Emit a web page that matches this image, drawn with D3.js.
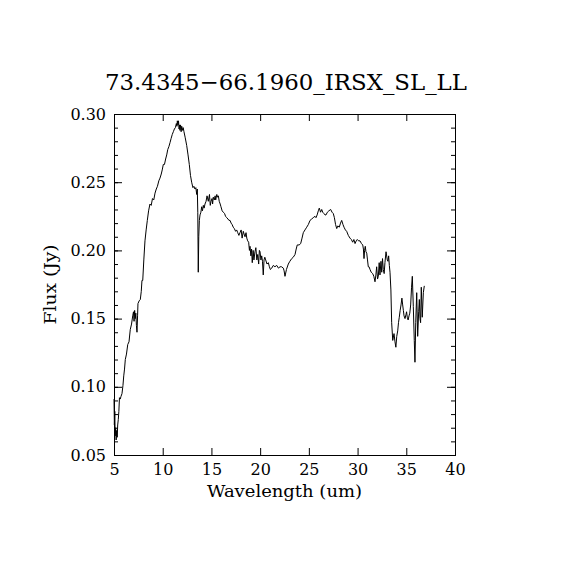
<!DOCTYPE html>
<html>
<head>
<meta charset="utf-8">
<script src="https://cdn.jsdelivr.net/npm/d3@7"></script>
<style>
  body { margin: 0; background: #fff; }
  text { font-family: "DejaVu Serif", "Liberation Serif", serif; fill: #000; }
</style>
</head>
<body>
<svg id="chart" width="570" height="570"></svg>
<script>
"use strict";

const title = "73.4345\u221266.1960_IRSX_SL_LL";
const xTicks = [5, 10, 15, 20, 25, 30, 35, 40];
const yTicks = [0.05, 0.10, 0.15, 0.20, 0.25, 0.30];

// wavelength (um)
const wave = [
  5.00, 5.04, 5.08, 5.12, 5.17, 5.22, 5.28, 5.33, 5.38, 5.44, 5.50, 5.56, 5.64, 5.72, 5.82,
  5.92, 6.00, 6.08, 6.16, 6.28, 6.41, 6.54, 6.67, 6.80, 6.92, 7.00, 7.06, 7.12, 7.18, 7.24,
  7.30, 7.36, 7.42, 7.46, 7.58, 7.70, 7.80, 7.87, 7.95, 8.06, 8.18, 8.30, 8.42, 8.55, 8.69,
  8.82, 8.95, 9.08, 9.21, 9.34, 9.46, 9.60, 9.72, 9.85, 9.95, 10.06, 10.18, 10.30, 10.41,
  10.52, 10.63, 10.75, 10.86, 10.98, 11.09, 11.20, 11.30, 11.40, 11.46, 11.50, 11.56, 11.62,
  11.68, 11.73, 11.77, 11.83, 11.89, 11.95, 12.02, 12.10, 12.18, 12.30, 12.46, 12.60, 12.73,
  12.85, 12.97, 13.10, 13.20, 13.31, 13.40, 13.49, 13.55, 13.60, 13.65, 13.70, 13.76, 13.83,
  13.92, 14.00, 14.08, 14.17, 14.25, 14.34, 14.45, 14.55, 14.68, 14.80, 14.88, 14.96, 15.06,
  15.12, 15.19, 15.30, 15.38, 15.44, 15.55, 15.63, 15.71, 15.80, 15.90, 15.98, 16.10, 16.22,
  16.35, 16.45, 16.57, 16.70, 16.80, 16.91, 17.02, 17.12, 17.24, 17.35, 17.48, 17.59, 17.70,
  17.82, 17.93, 18.05, 18.15, 18.27, 18.35, 18.45, 18.55, 18.63, 18.72, 18.82, 18.90, 18.96,
  19.05, 19.12, 19.19, 19.28, 19.36, 19.47, 19.56, 19.66, 19.75, 19.85, 19.92, 19.99, 20.08,
  20.16, 20.24, 20.32, 20.40, 20.48, 20.57, 20.70, 20.84, 20.95, 21.05, 21.19, 21.35, 21.52,
  21.70, 21.88, 22.04, 22.20, 22.38, 22.46, 22.55, 22.70, 22.89, 23.05, 23.24, 23.40, 23.58,
  23.70, 23.81, 24.00, 24.16, 24.30, 24.43, 24.60, 24.78, 24.95, 25.12, 25.29, 25.45, 25.63,
  25.73, 25.85, 25.97, 26.07, 26.20, 26.32, 26.42, 26.55, 26.66, 26.76, 26.90, 27.05, 27.24,
  27.38, 27.51, 27.62, 27.74, 27.86, 27.98, 28.12, 28.25, 28.37, 28.50, 28.61, 28.75, 28.88,
  29.05, 29.22, 29.36, 29.50, 29.62, 29.74, 29.86, 29.97, 30.10, 30.25, 30.40, 30.53, 30.60,
  30.66, 30.72, 30.79, 30.86, 30.94, 31.02, 31.10, 31.18, 31.28, 31.40, 31.55, 31.67, 31.79,
  31.88, 31.96, 32.05, 32.13, 32.22, 32.30, 32.40, 32.48, 32.56, 32.64, 32.73, 32.81, 32.92,
  33.05, 33.12, 33.19, 33.26, 33.33, 33.42, 33.50, 33.61, 33.74, 33.84, 33.93, 34.02, 34.12,
  34.20, 34.28, 34.37, 34.46, 34.55, 34.63, 34.70, 34.77, 34.87, 34.97, 35.03, 35.10, 35.19,
  35.28, 35.36, 35.45, 35.54, 35.62, 35.72, 35.82, 35.89, 35.97, 36.07, 36.17, 36.27, 36.34,
  36.41, 36.47, 36.54, 36.64, 36.75, 36.85, 36.99
];

// flux (Jy)
const flux = [
  0.091, 0.072, 0.082, 0.064, 0.070, 0.061, 0.068, 0.063, 0.072, 0.076, 0.082, 0.092, 0.091, 0.093, 0.095,
  0.101, 0.108, 0.113, 0.120, 0.124, 0.131, 0.133, 0.142, 0.146, 0.152, 0.155, 0.148, 0.156, 0.150, 0.154,
  0.145, 0.140, 0.152, 0.161, 0.163, 0.164, 0.170, 0.178, 0.178, 0.193, 0.207, 0.215, 0.222, 0.229, 0.234,
  0.233, 0.238, 0.237, 0.242, 0.245, 0.247, 0.251, 0.253, 0.256, 0.259, 0.263, 0.263, 0.267, 0.270,
  0.274, 0.276, 0.279, 0.282, 0.285, 0.287, 0.289, 0.290, 0.293, 0.291, 0.295, 0.292, 0.295,
  0.289, 0.292, 0.288, 0.292, 0.287, 0.291, 0.288, 0.290, 0.287, 0.283, 0.277, 0.270, 0.263,
  0.255, 0.250, 0.246, 0.247, 0.245, 0.246, 0.241, 0.245, 0.228, 0.184, 0.210, 0.222, 0.226,
  0.228, 0.232, 0.229, 0.233, 0.231, 0.234, 0.236, 0.240, 0.236, 0.241, 0.233, 0.236, 0.238,
  0.234, 0.239, 0.237, 0.240, 0.237, 0.241, 0.239, 0.240, 0.236, 0.234, 0.232, 0.229, 0.228,
  0.227, 0.225, 0.224, 0.223, 0.222, 0.222, 0.220, 0.219, 0.217, 0.216, 0.214, 0.215, 0.213,
  0.211, 0.213, 0.215, 0.209, 0.214, 0.212, 0.210, 0.213, 0.209, 0.207, 0.206, 0.200, 0.203,
  0.196, 0.201, 0.191, 0.200, 0.193, 0.199, 0.202, 0.193, 0.197, 0.190, 0.200, 0.199, 0.193,
  0.196, 0.192, 0.182, 0.193, 0.195, 0.193, 0.190, 0.191, 0.188, 0.186, 0.187, 0.189, 0.188,
  0.189, 0.187, 0.188, 0.188, 0.187, 0.185, 0.181, 0.186, 0.190, 0.192, 0.194, 0.195, 0.197,
  0.201, 0.204, 0.204, 0.205, 0.209, 0.213, 0.215, 0.217, 0.219, 0.222, 0.223, 0.224, 0.225,
  0.224, 0.226, 0.229, 0.231, 0.228, 0.230, 0.228, 0.227, 0.226, 0.226, 0.228, 0.229, 0.230,
  0.228, 0.227, 0.224, 0.219, 0.216, 0.218, 0.217, 0.220, 0.222, 0.219, 0.217, 0.215, 0.214,
  0.211, 0.209, 0.208, 0.206, 0.208, 0.205, 0.207, 0.208, 0.207, 0.207, 0.205, 0.204, 0.201,
  0.194, 0.200, 0.203, 0.199, 0.198, 0.193, 0.188, 0.188, 0.186, 0.184, 0.183, 0.181, 0.177,
  0.182, 0.188, 0.179, 0.181, 0.191, 0.182, 0.192, 0.184, 0.194, 0.186, 0.183, 0.191,
  0.199, 0.193, 0.192, 0.196, 0.189, 0.184, 0.171, 0.147, 0.134, 0.139, 0.133, 0.129, 0.137,
  0.141, 0.147, 0.151, 0.156, 0.160, 0.165, 0.160, 0.156, 0.152, 0.150, 0.153, 0.155, 0.151,
  0.149, 0.152, 0.154, 0.160, 0.173, 0.181, 0.159, 0.134, 0.118, 0.147, 0.169, 0.137, 0.155,
  0.164, 0.150, 0.147, 0.173, 0.151, 0.169, 0.174
];

const svg = d3.select("#chart"),
    margin = {top: 114, right: 115, bottom: 115, left: 114},
    width = +svg.attr("width") - margin.left - margin.right,
    height = +svg.attr("height") - margin.top - margin.bottom,
    x = d3.scaleLinear().domain([5, 40]).range([0, width]),
    y = d3.scaleLinear().domain([0.05, 0.30]).range([height, 0]),
    g = svg.append("g")
        .attr("transform", `translate(${margin.left},${margin.top})`);

svg.append("rect").attr("width", 570).attr("height", 570).attr("fill", "#fff").lower();

const yMinor = d3.range(0.05, 0.3001, 0.01);

// bottom and top axes (ticks pointing inward)
g.append("g")
    .attr("class", "axis axis-x")
    .attr("transform", `translate(0,${height})`)
    .call(d3.axisBottom(x).tickValues(xTicks).tickSize(-7).tickPadding(9).tickFormat(d3.format("d")));

g.append("g")
    .call(d3.axisTop(x).tickValues(xTicks).tickSize(-7).tickFormat(""));

// left and right axes: minor then major
g.append("g")
    .call(d3.axisLeft(y).tickValues(yMinor).tickSize(-4).tickFormat(""));
g.append("g")
    .attr("class", "axis axis-y")
    .call(d3.axisLeft(y).tickValues(yTicks).tickSize(-8).tickPadding(8).tickFormat(d3.format(".2f")));

g.append("g")
    .attr("transform", `translate(${width},0)`)
    .call(d3.axisRight(y).tickValues(yMinor).tickSize(-4).tickFormat(""));
g.append("g")
    .attr("transform", `translate(${width},0)`)
    .call(d3.axisRight(y).tickValues(yTicks).tickSize(-8).tickFormat(""));

svg.selectAll(".domain").attr("stroke", "#000").attr("stroke-width", 1);
svg.selectAll(".tick line").attr("stroke", "#000").attr("stroke-width", 1);
svg.selectAll(".tick text")
    .attr("fill", "#000")
    .style("font-family", "'DejaVu Serif', serif")
    .style("font-size", "16px");

// spectrum
const points = wave.map((w, i) => [w, flux[i]]);
g.append("path")
    .datum(points)
    .attr("fill", "none")
    .attr("stroke", "#000")
    .attr("stroke-width", 1)
    .attr("d", d3.line().x(d => x(d[0])).y(d => y(d[1])));

// title and axis labels
svg.append("text")
    .attr("x", 286)
    .attr("y", 90)
    .attr("text-anchor", "middle")
    .attr("textLength", 362)
    .attr("lengthAdjust", "spacingAndGlyphs")
    .style("font-size", "23px")
    .text(title);

svg.append("text")
    .attr("x", margin.left + width / 2)
    .attr("y", 497)
    .attr("text-anchor", "middle")
    .attr("textLength", 155)
    .attr("lengthAdjust", "spacingAndGlyphs")
    .style("font-size", "16px")
    .text("Wavelength (um)");

svg.append("text")
    .attr("transform", `translate(56,${margin.top + height / 2}) rotate(-90)`)
    .attr("text-anchor", "middle")
    .attr("textLength", 80)
    .attr("lengthAdjust", "spacingAndGlyphs")
    .style("font-size", "16px")
    .text("Flux (Jy)");
</script>
</body>
</html>
